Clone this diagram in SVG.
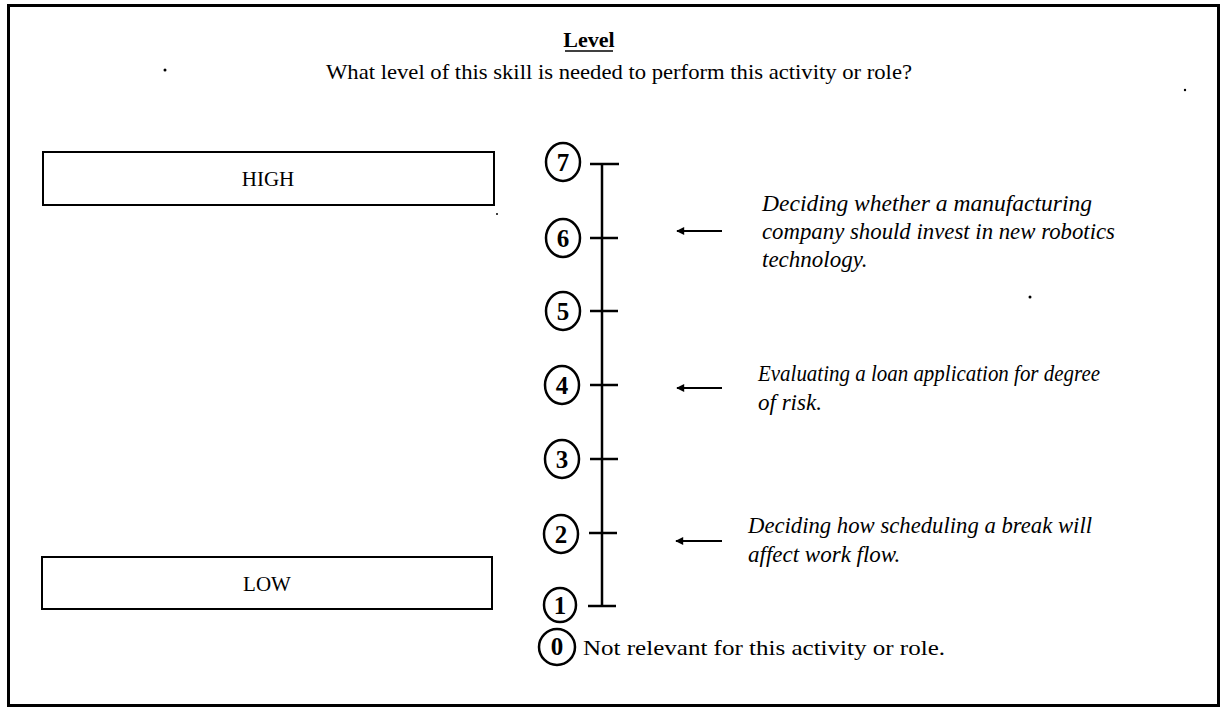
<svg xmlns="http://www.w3.org/2000/svg" width="1225" height="709" viewBox="0 0 1225 709">
<defs>
<style>
.t{font-family:"Liberation Serif","Times New Roman",serif;fill:#000}
.it{font-family:"Liberation Serif","Times New Roman",serif;font-style:italic;font-size:23px;fill:#000}
.box{fill:#fff;stroke:#000;stroke-width:2}
.num{fill:#fff;stroke:#000;stroke-width:2.5}
.nt{font-family:"Liberation Serif","Times New Roman",serif;font-weight:bold;font-size:25px;text-anchor:middle;fill:#000}
.ln{stroke:#000;stroke-width:2.5;fill:none}
.ar{stroke:#000;stroke-width:2;fill:none}
</style>
<marker id="ah" viewBox="0 0 10 10" refX="9" refY="5" markerWidth="10" markerHeight="8" markerUnits="userSpaceOnUse" orient="auto">
<path d="M0,0 L10,5 L0,10 Z" fill="#000"/>
</marker>
</defs>
<rect x="0" y="0" width="1225" height="709" fill="#fff"/>
<rect id="frame" x="8.5" y="5.5" width="1210" height="700" fill="none" stroke="#000" stroke-width="3"/>
<g id="title">
<text class="t" x="589" y="47" font-size="22" font-weight="bold" text-anchor="middle">Level</text>
<line x1="565" y1="51" x2="613" y2="51" stroke="#000" stroke-width="1.5"/>
<text class="t" x="619" y="79" font-size="21" text-anchor="middle" textLength="586" lengthAdjust="spacingAndGlyphs">What level of this skill is needed to perform this activity or role?</text>
</g>
<g id="high">
<rect class="box" x="43" y="152" width="451" height="53"/>
<text class="t" x="268" y="186" font-size="21" text-anchor="middle">HIGH</text>
</g>
<g id="low">
<rect class="box" x="42" y="557" width="450" height="52"/>
<text class="t" x="267" y="591" font-size="21" text-anchor="middle">LOW</text>
</g>
<g id="scale">
<line class="ln" x1="602" y1="164" x2="602" y2="606"/>
<line class="ln" x1="590" y1="164" x2="619" y2="164"/>
<line class="ln" x1="590" y1="238" x2="618" y2="238"/>
<line class="ln" x1="590" y1="311" x2="618" y2="311"/>
<line class="ln" x1="590" y1="385" x2="618" y2="385"/>
<line class="ln" x1="590" y1="459" x2="618" y2="459"/>
<line class="ln" x1="589" y1="533" x2="617" y2="533"/>
<line class="ln" x1="588" y1="606" x2="616" y2="606"/>
</g>
<g id="n7"><ellipse class="num" cx="563" cy="162" rx="17" ry="19"/><text class="nt" x="563" y="171">7</text></g>
<g id="n6"><ellipse class="num" cx="563" cy="238" rx="17" ry="19"/><text class="nt" x="563" y="247">6</text></g>
<g id="n5"><ellipse class="num" cx="563" cy="311" rx="17" ry="19"/><text class="nt" x="563" y="320">5</text></g>
<g id="n4"><ellipse class="num" cx="562" cy="385" rx="17" ry="19"/><text class="nt" x="562" y="394">4</text></g>
<g id="n3"><ellipse class="num" cx="562" cy="459" rx="17" ry="19"/><text class="nt" x="562" y="468">3</text></g>
<g id="n2"><ellipse class="num" cx="561" cy="534" rx="17" ry="19"/><text class="nt" x="561" y="543">2</text></g>
<g id="n1"><ellipse class="num" cx="560" cy="605" rx="16" ry="17"/><text class="nt" x="560" y="614">1</text></g>
<g id="n0"><ellipse class="num" cx="557" cy="647" rx="18" ry="18"/><text class="nt" x="557" y="655" font-size="21">0</text>
<text class="t" x="583" y="655" font-size="22" textLength="362" lengthAdjust="spacingAndGlyphs">Not relevant for this activity or role.</text></g>
<g id="connectors">
<line class="ar" x1="722" y1="231" x2="677" y2="231" marker-end="url(#ah)"/>
<line class="ar" x1="722" y1="388" x2="677" y2="388" marker-end="url(#ah)"/>
<line class="ar" x1="722" y1="541" x2="676" y2="541" marker-end="url(#ah)"/>
</g>
<g id="ex6">
<text class="it" x="762" y="211" textLength="330" lengthAdjust="spacingAndGlyphs">Deciding whether a manufacturing</text>
<text class="it" x="762" y="239" textLength="353" lengthAdjust="spacingAndGlyphs">company should invest in new robotics</text>
<text class="it" x="762" y="267">technology.</text>
</g>
<g id="ex4">
<text class="it" x="758" y="381" textLength="342" lengthAdjust="spacingAndGlyphs">Evaluating a loan application for degree</text>
<text class="it" x="758" y="410">of risk.</text>
</g>
<g id="ex2">
<text class="it" x="748" y="533" textLength="344" lengthAdjust="spacingAndGlyphs">Deciding how scheduling a break will</text>
<text class="it" x="748" y="562">affect work flow.</text>
</g>
<g id="specks" fill="#000">
<circle cx="165" cy="70" r="1.5"/>
<circle cx="1185" cy="90" r="1.2"/>
<circle cx="1030" cy="297" r="1.5"/>
<circle cx="497" cy="214" r="1"/>
</g>
</svg>
